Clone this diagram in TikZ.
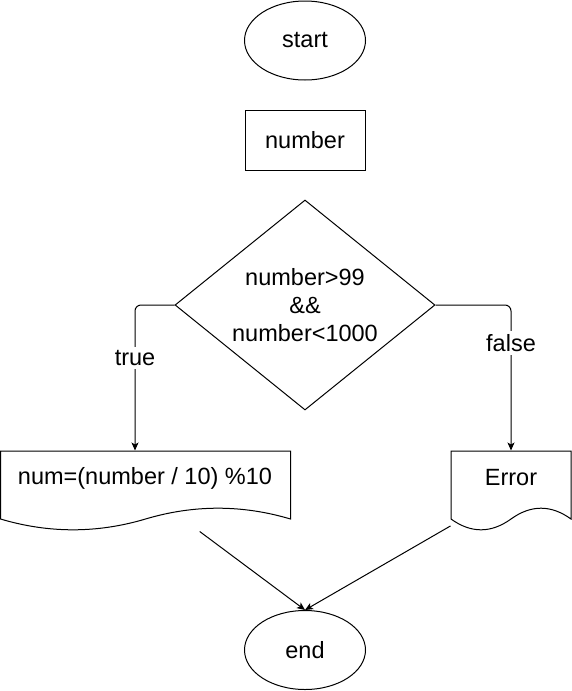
\documentclass[tikz,border=0pt]{standalone}
\usepackage{fontspec}
\setmainfont{Liberation Sans}
\usetikzlibrary{shapes.geometric,arrows.meta,calc}
\newcommand\flowdoc[4]{% x0 y0 w h : document outline with wavy bottom
  \draw (#1,#2) -- ({#1+#3},#2) -- ({#1+#3},{#2+#4*0.85})
    .. controls ({#1+#3*5/6},{#2+#4*0.67}) and ({#1+#3*2/3},{#2+#4*0.67}) .. ({#1+#3/2},{#2+#4*0.85})
    .. controls ({#1+#3/3},{#2+#4*1.03}) and ({#1+#3/6},{#2+#4*1.03}) .. (#1,{#2+#4*0.85}) -- cycle;}
\begin{document}
\begin{tikzpicture}[x=1pt,y=-1pt,
  font={\fontsize{23.5}{28.2}\selectfont},
  line width=1pt,
  every node/.style={inner sep=0pt},
  term/.style={ellipse, draw, minimum width=121pt, minimum height=79pt},
  proc/.style={rectangle, draw, minimum width=120pt, minimum height=60pt},
  decision/.style={diamond, draw, shape aspect=1.24, minimum width=260pt, minimum height=210pt, align=center},
  docbox/.style={rectangle, minimum height=80pt},
  arr/.style={-{Stealth[length=8pt,width=7pt,inset=2pt]}},
  lab/.style={fill=white, inner sep=3pt}]
\useasboundingbox (0,0) rectangle (571,691);
\node[term] (start) at (305,40.5) {start};
\node[proc] (num) at (305,140) {number};
\node[decision] (cond) at (305,305) {number>99\\\&\&\\number<1000};
\node[docbox, minimum width=290pt] (ldoc) at (145.5,491) {};
\flowdoc{0.5}{451}{290}{80}
\node (ltext) at (145,478) {num=(number / 10) \%10};
\node[docbox, minimum width=120pt] (rdoc) at (511,491) {};
\flowdoc{451}{451}{120}{80}
\node (rtext) at (511,478) {Error};
\node[term] (end) at (305,650) {end};
\draw[arr, rounded corners=6pt] (cond.west) -| ([xshift=-10.5pt]ldoc.north);
\draw[arr, rounded corners=6pt] (cond.east) -| (rdoc.north);
\node[lab] (tlab) at (135,358) {true};
\node[lab] (flab) at (511,343) {false};
\draw[arr] (ldoc) -- (end.north);
\draw[arr] (rdoc) -- (end.north);
\end{tikzpicture}
\end{document}
